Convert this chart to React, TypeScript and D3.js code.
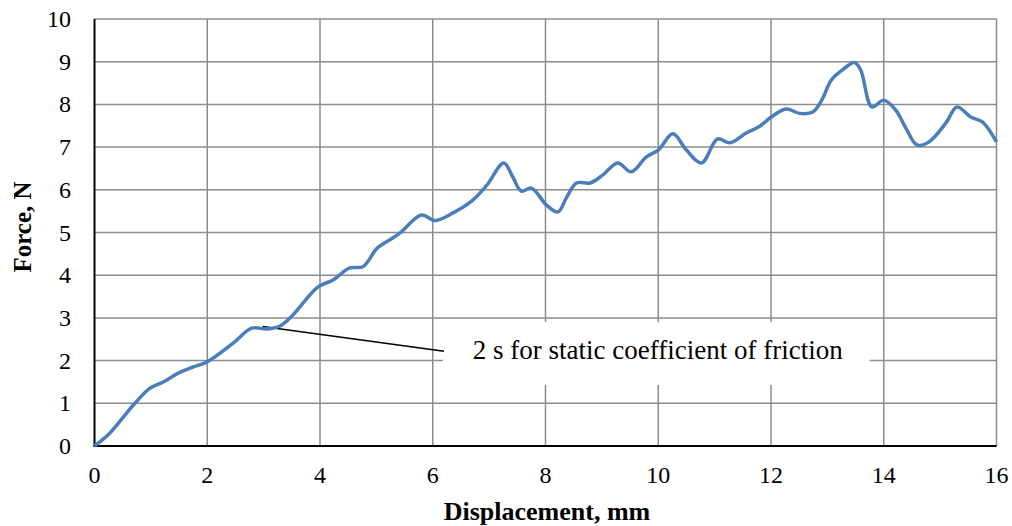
import React, { useEffect, useRef } from 'react';
import * as d3 from 'd3';

// displacement (mm) and force (N)
const displacement = [
  0, 0.27, 0.69, 0.98, 1.22, 1.52, 1.75, 2.0, 2.46, 2.79, 3.06, 3.29, 3.52, 3.96, 4.23, 4.53, 4.76, 5.02,
  5.29, 5.42, 5.8, 6.04, 6.36, 6.71, 6.96, 7.26, 7.42, 7.57, 7.75, 8.02, 8.22, 8.37, 8.55, 8.79, 9.02,
  9.28, 9.52, 9.79, 10.0, 10.26, 10.5, 10.77, 11.05, 11.27, 11.56, 11.8, 12.0, 12.27, 12.51, 12.74,
  12.9, 13.07, 13.27, 13.48, 13.59, 13.79, 14.0, 14.21, 14.39, 14.59, 14.8, 15.1, 15.3, 15.55, 15.75, 16.0,
];
const force = [
  0, 0.3, 0.96, 1.35, 1.5, 1.73, 1.85, 1.97, 2.41, 2.76, 2.74, 2.81, 3.07, 3.72, 3.89, 4.17, 4.2, 4.64,
  4.87, 4.99, 5.41, 5.28, 5.46, 5.76, 6.11, 6.63, 6.3, 5.97, 6.04, 5.64, 5.48, 5.81, 6.16, 6.16, 6.35,
  6.63, 6.42, 6.77, 6.93, 7.31, 6.93, 6.63, 7.19, 7.1, 7.33, 7.49, 7.7, 7.89, 7.79, 7.82,
  8.1, 8.57, 8.81, 8.98, 8.81, 7.94, 8.1, 7.87, 7.45, 7.05, 7.12, 7.56, 7.94, 7.7, 7.59, 7.12,
];
const xTicks = [0, 2, 4, 6, 8, 10, 12, 14, 16];
const yTicks = [0, 1, 2, 3, 4, 5, 6, 7, 8, 9, 10];

const annotationText = '2 s for static coefficient of friction';
const annotationAnchor = [2.98, 2.8];
const annotationEnd = [6.2, 2.22];
const annotationBox = { x0: 6.18, x1: 13.75, y0: 1.43, y1: 2.9 };

const App = () => {
  const svgRef = useRef(null);

  useEffect(() => {
    const svg = d3.select(svgRef.current);
    svg.selectAll('*').remove();

    const width = 1012;
    const height = 526;
    const margin = { top: 19, right: 15, bottom: 80, left: 94.5 };
    const font = '"Liberation Serif", "Times New Roman", serif';

    const x = d3.scaleLinear().domain([0, 16]).range([margin.left, 996.5]);
    const y = d3.scaleLinear().domain([0, 10]).range([446, margin.top]);

    svg.append('rect').attr('width', width).attr('height', height).attr('fill', '#fff');

    // grid
    svg
      .append('g')
      .selectAll('line')
      .data(yTicks.slice(1))
      .join('line')
      .attr('x1', x(0))
      .attr('x2', x(16))
      .attr('y1', (d) => y(d))
      .attr('y2', (d) => y(d))
      .attr('stroke', '#8c8c8c')
      .attr('stroke-width', 1.5);

    svg
      .append('g')
      .selectAll('line')
      .data(xTicks.slice(1))
      .join('line')
      .attr('x1', (d) => x(d))
      .attr('x2', (d) => x(d))
      .attr('y1', y(0))
      .attr('y2', y(10))
      .attr('stroke', '#8c8c8c')
      .attr('stroke-width', 1.5);

    // axes lines
    svg
      .append('line')
      .attr('x1', x(0))
      .attr('x2', x(0))
      .attr('y1', y(0))
      .attr('y2', y(10))
      .attr('stroke', '#000')
      .attr('stroke-width', 2);
    svg
      .append('line')
      .attr('x1', x(0) - 1)
      .attr('x2', x(16))
      .attr('y1', y(0))
      .attr('y2', y(0))
      .attr('stroke', '#000')
      .attr('stroke-width', 2);

    // tick labels
    svg
      .append('g')
      .selectAll('text')
      .data(xTicks)
      .join('text')
      .attr('x', (d) => x(d))
      .attr('y', 483)
      .attr('text-anchor', 'middle')
      .attr('font-family', font)
      .attr('font-size', 24)
      .attr('fill', '#000')
      .text((d) => d);

    svg
      .append('g')
      .selectAll('text')
      .data(yTicks)
      .join('text')
      .attr('x', 71)
      .attr('y', (d) => y(d) + 8)
      .attr('text-anchor', 'end')
      .attr('font-family', font)
      .attr('font-size', 24)
      .attr('fill', '#000')
      .text((d) => d);

    // axis titles
    svg
      .append('text')
      .attr('x', 547)
      .attr('y', 520)
      .attr('text-anchor', 'middle')
      .attr('font-family', font)
      .attr('font-weight', 'bold')
      .attr('font-size', 26)
      .text('Displacement, mm');

    svg
      .append('text')
      .attr('transform', 'translate(31,227) rotate(-90)')
      .attr('text-anchor', 'middle')
      .attr('font-family', font)
      .attr('font-weight', 'bold')
      .attr('font-size', 25)
      .text('Force, N');

    // annotation box
    svg
      .append('rect')
      .attr('x', x(annotationBox.x0))
      .attr('y', y(annotationBox.y1))
      .attr('width', x(annotationBox.x1) - x(annotationBox.x0))
      .attr('height', y(annotationBox.y0) - y(annotationBox.y1))
      .attr('fill', '#fff');

    svg
      .append('text')
      .attr('x', x(6.71))
      .attr('y', 359)
      .attr('font-family', font)
      .attr('font-size', 27)
      .attr('fill', '#000')
      .text(annotationText);

    svg
      .append('line')
      .attr('x1', x(annotationAnchor[0]))
      .attr('y1', y(annotationAnchor[1]))
      .attr('x2', x(annotationEnd[0]))
      .attr('y2', y(annotationEnd[1]))
      .attr('stroke', '#000')
      .attr('stroke-width', 1.5);

    // force curve
    const line = d3
      .line()
      .x((d, i) => x(displacement[i]))
      .y((d) => y(d))
      .curve(d3.curveCatmullRom.alpha(0.5));

    svg
      .append('path')
      .datum(force)
      .attr('fill', 'none')
      .attr('stroke', '#4a7ebb')
      .attr('stroke-width', 3.5)
      .attr('stroke-linejoin', 'round')
      .attr('d', line);
  }, []);

  return (
    <svg
      ref={svgRef}
      width={1012}
      height={526}
      style={{ position: 'absolute', left: 0, top: 0, display: 'block' }}
    />
  );
};

export default App;
